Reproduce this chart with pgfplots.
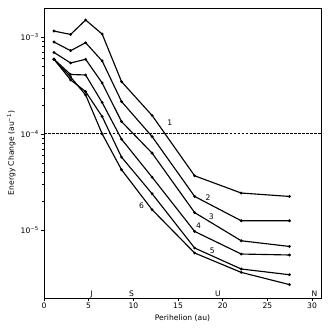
\documentclass[border=0pt]{standalone}
\usepackage{pgfplots}
\pgfplotsset{compat=1.18}
\usepackage{fontspec}
\setmainfont{DejaVu Sans}

\begin{document}
\begin{tikzpicture}[curve/.style={black, solid, line width=1.5pt, mark=*, mark size=1pt, mark options={solid, fill=black}}]
\begin{axis}[
  scale only axis,
  width=364pt, height=381pt,
  ymode=log,
  xmin=0, xmax=31,
  ymin=2e-6, ymax=2.01e-3,
  xtick={0,5,10,15,20,25,30},
  ytick={1e-5,1e-4,1e-3},
  yticklabels={10\textsuperscript{−5},10\textsuperscript{−4},10\textsuperscript{−3}},
  tick pos=left,
  tick align=outside,
  major tick length=3.5pt,
  minor tick length=2pt,
  every tick/.style={black, line width=0.8pt},
  minor tick style={line width=0.6pt},
  axis line style={line width=0.8pt},
  /pgf/number format/assume math mode=true,
  tick label style={font=\fontsize{10}{12}\selectfont},
  label style={font=\fontsize{10}{12}\selectfont},
  xlabel={Perihelion (au)},
  ylabel={Energy Change (au\textsuperscript{−1})},
  clip=false,
]
% line 1
\addplot[curve] coordinates {(1.12,1.16e-3) (2.98,1.07e-3) (4.66,1.51e-3) (6.51,1.08e-3) (8.68,3.47e-4) (12.1,1.55e-4) (16.86,3.68e-5) (22.07,2.44e-5) (27.47,2.25e-5)};
% line 2
\addplot[curve] coordinates {(1.12,8.94e-4) (2.98,7.27e-4) (4.66,8.79e-4) (6.51,5.69e-4) (8.68,2.16e-4) (12.1,9.37e-5) (16.86,2.25e-5) (22.07,1.26e-5) (27.47,1.26e-5)};
% line 3
\addplot[curve] coordinates {(1.12,6.97e-4) (2.98,5.42e-4) (4.66,5.92e-4) (6.51,3.37e-4) (8.68,1.34e-4) (12.1,6.32e-5) (16.86,1.53e-5) (22.07,7.82e-6) (27.47,6.83e-6)};
% line 4
\addplot[curve] coordinates {(1.12,5.92e-4) (2.98,4.12e-4) (4.66,4.07e-4) (6.51,2.11e-4) (8.68,8.81e-5) (12.1,3.56e-5) (16.86,9.77e-6) (22.07,5.70e-6) (27.47,5.57e-6)};
% line 5
\addplot[curve] coordinates {(1.12,5.92e-4) (2.98,3.62e-4) (4.66,2.74e-4) (6.51,1.51e-4) (8.68,5.74e-5) (12.1,2.40e-5) (16.86,6.58e-6) (22.07,3.99e-6) (27.47,3.48e-6)};
% line 6
\addplot[curve] coordinates {(1.12,5.92e-4) (2.98,3.88e-4) (4.66,2.53e-4) (6.51,1.00e-4) (8.68,4.25e-5) (12.1,1.64e-5) (16.86,5.84e-6) (22.07,3.68e-6) (27.47,2.75e-6)};

\draw[black, line width=1pt, dash pattern=on 3.7pt off 1.6pt] (axis cs:0,1e-4) -- (axis cs:31,1e-4);

\node[font=\fontsize{10}{12}\selectfont] at (axis cs:14.07,1.29e-4) {1};
\node[font=\fontsize{10}{12}\selectfont] at (axis cs:18.35,2.16e-5) {2};
\node[font=\fontsize{10}{12}\selectfont] at (axis cs:18.73,1.40e-5) {3};
\node[font=\fontsize{10}{12}\selectfont] at (axis cs:17.30,1.12e-5) {4};
\node[font=\fontsize{10}{12}\selectfont] at (axis cs:18.84,6.21e-6) {5};
\node[font=\fontsize{10}{12}\selectfont] at (axis cs:10.91,1.80e-5) {6};

\node[anchor=base, inner sep=0pt, font=\fontsize{10}{12}\selectfont] at (axis cs:5.32,2.09e-6) {J};
\node[anchor=base, inner sep=0pt, font=\fontsize{10}{12}\selectfont] at (axis cs:9.79,2.09e-6) {S};
\node[anchor=base, inner sep=0pt, font=\fontsize{10}{12}\selectfont] at (axis cs:19.46,2.09e-6) {U};
\node[anchor=base, inner sep=0pt, font=\fontsize{10}{12}\selectfont] at (axis cs:30.26,2.09e-6) {N};

\coordinate (bl) at (rel axis cs:-0.1588,-0.1103);
\coordinate (tr) at (rel axis cs:1.0325,1.0276);
\end{axis}
\path (bl) rectangle (tr);
\end{tikzpicture}
\end{document}
